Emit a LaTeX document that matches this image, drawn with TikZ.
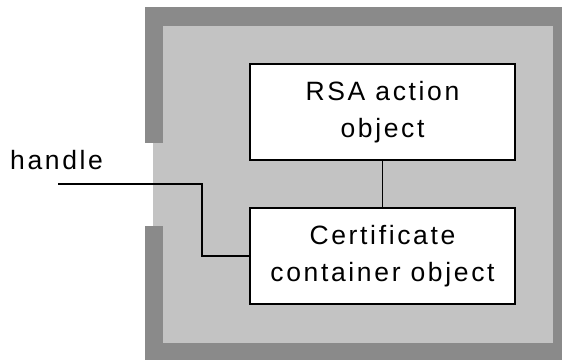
\documentclass[tikz,border=0pt]{standalone}
\usepackage{fontspec}
\newfontfamily\objfont{Liberation Sans}[LetterSpace=10]
\definecolor{wallgray}{HTML}{8A8A8A}
\definecolor{roomgray}{HTML}{C3C3C3}

\begin{document}
\begin{tikzpicture}[x=1pt, y=1pt,
  objbox/.style={draw, line width=1.8pt, fill=white, minimum width=265pt, minimum height=96pt,
    align=center, font=\objfont\fontsize{26.5}{37.5}\selectfont, inner sep=0pt},
  wire/.style={line width=1.3pt}]
\useasboundingbox (0,0) rectangle (562,360);
% the walls and the room
\fill[wallgray] (145,0) rectangle (562,353);
\fill[roomgray] (163,17) rectangle (553,334);
\fill[white] (145,134) rectangle (153,217);
\fill[roomgray] (153,134) rectangle (163,217);
% objects
\node[objbox] (rsa) at (382.5,248) {RSA action\\object};
\node[objbox] (cert) at (382.5,104) {Certificate\\container object};
\draw[wire] (rsa) -- (cert);
% the handle
\coordinate (handleend) at (58,176);
\node[anchor=base west, font=\objfont\fontsize{26.5}{37.5}\selectfont, inner sep=0pt] (handle) at (10,191) {handle};
\draw[wire] (handleend) -| (202,104) -- (cert.west);
\end{tikzpicture}
\end{document}
